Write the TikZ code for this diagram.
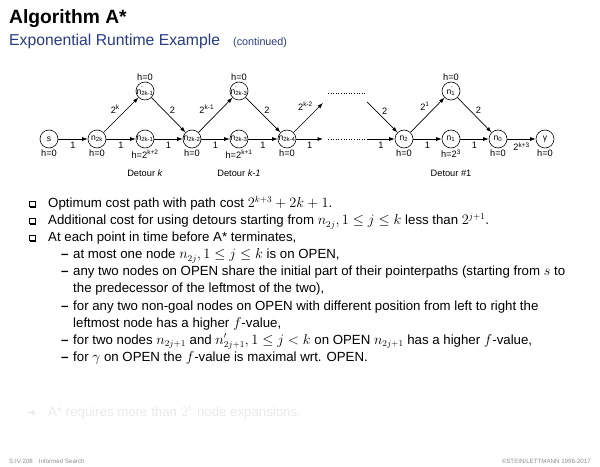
\documentclass[tikz,border=0pt]{standalone}
\usepackage{fontspec}
\setmainfont{Liberation Sans}
\newfontfamily\symfont{DejaVu Sans}
\usepackage{tikz}
\usetikzlibrary{arrows.meta,positioning,shadows}
\definecolor{Subtitle}{RGB}{40,58,128}
\definecolor{Faded}{RGB}{234,234,234}
\definecolor{Foot}{RGB}{140,140,140}
\newcommand{\nn}[2][]{\makebox[0pt]{n\rlap{\textsuperscript{#1}}\textsubscript{#2}}}
\newcommand{\bodyfont}{\fontsize{13.3}{17}\selectfont}

\tikzset{
  state/.style={circle,draw,line width=0.6bp,minimum size=18bp,inner sep=0pt,font=\fontsize{8.6}{9}\selectfont},
  lbl/.style={font=\fontsize{9.3}{10}\selectfont,inner sep=1bp},
  edge/.style={-{Latex[length=5.5bp,width=4bp]},line width=0.7bp},
  body/.style={anchor=base west,inner sep=0pt,font=\bodyfont},
  sqbullet/.style={draw,fill=white,line width=0.5bp,minimum size=5.5bp,inner sep=0pt,
    drop shadow={shadow xshift=0.9bp,shadow yshift=-0.9bp,opacity=1,fill=black}},
}

\begin{document}
\begin{tikzpicture}[x=1bp,y=-1bp]
  \useasboundingbox (0,0) rectangle (600,467);
  \node[anchor=base west,inner sep=0pt,font=\fontsize{19.3}{21}\selectfont\bfseries] (title) at (9,24) {Algorithm A*};
  \node[anchor=base west,inner sep=0pt,text=Subtitle,font=\fontsize{15.8}{18}\selectfont] (subtitle) at (9,46) {Exponential Runtime Example};
  \node[anchor=base west,inner sep=0pt,text=Subtitle,font=\fontsize{10.8}{12}\selectfont] (cont) at (233,46) {(continued)};

  \node[state,label={[lbl]below:h=0}] (s) at (49,139) {s};
  \node[state,label={[lbl]below:h=0}] (n2k) at (97,139) {\nn{2k}};
  \node[state,label={[lbl]below:h=2\textsuperscript{k+2}}] (n2km1) at (145,139) {\nn{2k-1}};
  \node[state,label={[lbl]above:h=0}] (p2km1) at (145,91) {\nn[']{2k-1}};
  \node[state,label={[lbl]below:h=0}] (n2km2) at (192,139) {\nn{2k-2}};
  \node[state,label={[lbl]below:h=2\textsuperscript{k+1}}] (n2km3) at (239,139) {\nn{2k-3}};
  \node[state,label={[lbl]above:h=0}] (p2km3) at (239,91) {\nn[']{2k-3}};
  \node[state,label={[lbl]below:h=0}] (n2km4) at (287,139) {\nn{2k-4}};
  \node[state,label={[lbl]below:h=0}] (n2) at (404,139) {\nn{2}};
  \node[state,label={[lbl]below:h=2\textsuperscript{3}}] (n1) at (451,139) {\nn{1}};
  \node[state,label={[lbl]above:h=0}] (p1) at (451,91) {\nn[']{1}};
  \node[state,label={[lbl]below:h=0}] (n0) at (498,139) {\nn{0}};
  \node[state,label={[lbl]below:h=0}] (goal) at (545,139) {γ};

  \coordinate (outup) at (323,103);
  \coordinate (outlow) at (323,139);
  \coordinate (dotul) at (328,93);
  \coordinate (dotur) at (365,93);
  \coordinate (dotll) at (328,139);
  \coordinate (dotlr) at (365,139);
  \coordinate (inup) at (367,102);
  \coordinate (inlow) at (367,139);

  \foreach \a/\b in {s/n2k,n2k/n2km1,n2km1/n2km2,n2km2/n2km3,n2km3/n2km4,n2km4/outlow,inlow/n2,n2/n1,n1/n0}
    \draw[edge] (\a) -- node[lbl,below=2bp] {1} (\b);
  \draw[edge] (n0) -- node[lbl,below=2bp] {2\textsuperscript{k+3}} (goal);
  \draw[edge] (n2k) -- node[lbl,midway,anchor=south east] {2\textsuperscript{k}} (p2km1);
  \draw[edge] (p2km1) -- node[lbl,midway,anchor=south west] {2} (n2km2);
  \draw[edge] (n2km2) -- node[lbl,midway,anchor=south east] {2\textsuperscript{k-1}} (p2km3);
  \draw[edge] (p2km3) -- node[lbl,midway,anchor=south west] {2} (n2km4);
  \draw[edge] (n2km4) -- node[lbl,pos=0.7,anchor=south east] {2\textsuperscript{k-2}} (outup);
  \draw[edge] (inup) -- node[lbl,pos=0.45,anchor=south west] {2} (n2);
  \draw[edge] (n2) -- node[lbl,pos=0.6,anchor=south east] {2\textsuperscript{1}} (p1);
  \draw[edge] (p1) -- node[lbl,midway,anchor=south west] {2} (n0);
  \draw[dotted,line width=0.6bp] (dotul) -- (dotur);
  \draw[dotted,line width=0.6bp] (dotll) -- (dotlr);

  \node[lbl] (detk) at (145,173) {Detour \textit{k}};
  \node[lbl] (detk1) at (239,173) {Detour \textit{k-1}};
  \node[lbl] (det1) at (451,173) {Detour \#1};

  \node[sqbullet] (b1) at (32,204) {};
  \node[sqbullet] (b2) at (32,221) {};
  \node[sqbullet] (b3) at (32,238) {};
  \node[body] (t1) at (48,208) {Optimum cost path with path cost $2^{k+3}+2k+1$.};
  \node[body] (t2) at (48,225) {Additional cost for using detours starting from $n_{2j}, 1\le j\le k$ less than $2^{j+1}$.};
  \node[body] (t3) at (48,242) {At each point in time before A* terminates,};

  \node[body] (d1) at (61,259) {\textbf{--}};
  \node[body] (d2) at (61,276) {\textbf{--}};
  \node[body] (d3) at (61,310) {\textbf{--}};
  \node[body] (d4) at (61,344) {\textbf{--}};
  \node[body] (d5) at (61,361) {\textbf{--}};
  \node[body] (s1) at (73,259) {at most one node $n_{2j}, 1\le j\le k$ is on OPEN,};
  \node[body] (s2a) at (73,276) {any two nodes on OPEN share the initial part of their pointerpaths (starting from $s$ to};
  \node[body] (s2b) at (73,293) {the predecessor of the leftmost of the two),};
  \node[body] (s3a) at (73,310) {for any two non-goal nodes on OPEN with different position from left to right the};
  \node[body] (s3b) at (73,327) {leftmost node has a higher $f$-value,};
  \node[body] (s4) at (73,344) {for two nodes $n_{2j+1}$ and $n'_{2j+1}, 1\le j<k$ on OPEN $n_{2j+1}$ has a higher $f$-value,};
  \node[body] (s5) at (73,361) {for $\gamma$ on OPEN the $f$-value is maximal wrt. OPEN.};

  \node[body,text=Faded,font=\fontsize{11}{13}\symfont] (arr) at (27,416) {➜};
  \node[body,text=Faded] (concl) at (48,416) {A* requires more than $2^k$ node expansions.};

  \node[anchor=base west,inner sep=0pt,text=Foot,font=\fontsize{6.2}{7}\selectfont] (foot1) at (9,463) {S:IV-208\hspace{6bp}Informed Search};
  \node[anchor=base east,inner sep=0pt,text=Foot,font=\fontsize{6.2}{7}\selectfont] (foot2) at (591,463) {©STEIN/LETTMANN 1998-2017};
\end{tikzpicture}
\end{document}
